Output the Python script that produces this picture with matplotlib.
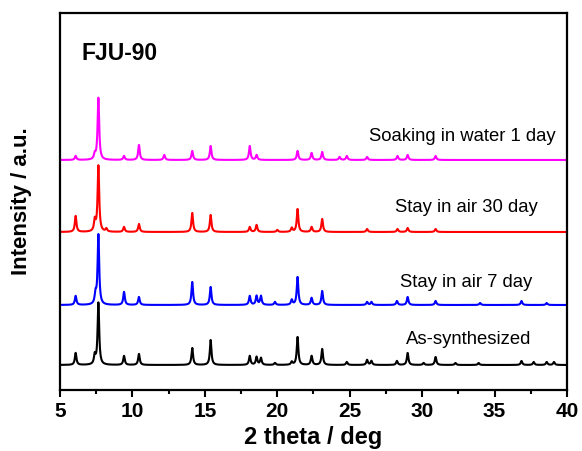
import numpy as np
import matplotlib
matplotlib.use("Agg")
import matplotlib.pyplot as plt

plt.rcParams['font.family'] = ['Liberation Sans', 'DejaVu Sans']

# peak tables: 2theta position, height (a.u.)
black_pos = [6.08, 7.4, 7.65, 9.42, 10.45, 14.13, 15.4, 18.1, 18.57, 18.87, 19.84, 21.0, 21.4,
             22.37, 23.1, 24.8, 26.2, 26.5, 28.26, 29.0, 30.1, 30.93, 32.3, 33.9, 36.86, 37.7, 38.6, 39.1]
black_h = [12, 9, 62, 9, 11, 17, 25, 9, 8, 7, 2, 3, 28,
           9, 16, 3, 5, 4, 4, 12, 2, 8, 2, 2, 4, 3, 3, 3]

blue_pos = [6.08, 7.45, 7.65, 9.42, 10.45, 14.13, 15.4, 18.1, 18.57, 18.87, 19.84, 21.0, 21.4,
            22.37, 23.1, 26.2, 26.5, 28.26, 29.0, 30.93, 34.0, 36.86, 38.6]
blue_h = [9, 10, 70, 13, 8, 23, 18, 9, 9, 9, 3, 5, 28,
          7, 14, 3, 3, 4, 8, 4, 2, 4, 2]

red_pos = [6.08, 7.4, 7.65, 8.2, 9.42, 10.45, 14.13, 15.4, 18.1, 18.57, 20.0, 21.0, 21.4,
           22.37, 23.1, 26.2, 28.3, 29.0, 30.93]
red_h = [16, 11, 66, 3, 5, 8, 19, 17, 5, 7, 2, 4, 23,
         5, 13, 3, 3, 4, 3]

magenta_pos = [6.08, 7.4, 7.65, 9.42, 10.45, 12.2, 14.13, 15.4, 18.1, 18.57, 21.4,
               22.37, 23.1, 24.3, 24.8, 26.2, 28.3, 29.0, 30.93]
magenta_h = [4, 5, 62, 4, 15, 5, 9, 14, 14, 5, 9,
             7, 8, 3, 4, 3, 4, 5, 4]

labels = ["As-synthesized", "Stay in air 7 day", "Stay in air 30 day", "Soaking in water 1 day"]
colors = ["black", "blue", "red", "magenta"]
offsets = [25, 85, 158, 230]

two_theta = np.linspace(5, 40, 3500)


def profile(pos, h, width=0.065):
    y = np.zeros_like(two_theta)
    for p, a in zip(pos, h):
        y += a / (1 + ((two_theta - p) / width) ** 2)
    return y


fig = plt.figure(figsize=(5.82, 4.51), dpi=100)
ax = fig.add_axes([0.1031, 0.1353, 0.8711, 0.8359])

series = [(black_pos, black_h), (blue_pos, blue_h), (red_pos, red_h), (magenta_pos, magenta_h)]
for (pos, h), c, off in zip(series, colors, offsets):
    ax.plot(two_theta, profile(pos, h) + off, color=c, lw=1.5)

label_xy = [(33.2, 50), (33.05, 107), (33.05, 182), (32.8, 253)]
for lab, (x, y) in zip(labels, label_xy):
    ax.text(x, y, lab, ha="center", va="center", fontsize=13.3)

ax.text(6.45, 336, "FJU-90", ha="left", va="center", fontsize=16.5, fontweight="bold")

ax.set_xlim(5, 40)
ax.set_ylim(0, 377)
ax.set_xticks(np.arange(5, 41, 5))
ax.set_xticks(np.arange(7.5, 40, 5), minor=True)
ax.set_yticks([])
ax.tick_params(axis="x", which="major", direction="out", length=5, width=1.5,
               labelsize=15, pad=3.5)
ax.tick_params(axis="x", which="minor", direction="out", length=2.6, width=1.5)
for lab in ax.get_xticklabels():
    lab.set_fontweight("bold")
for s in ax.spines.values():
    s.set_linewidth(1.6)

ax.set_xlabel("2 theta / deg", fontsize=17, fontweight="bold", labelpad=4)
ax.set_ylabel("Intensity / a.u.", fontsize=16, fontweight="bold", labelpad=20)

fig.savefig("out.png", dpi=100)
